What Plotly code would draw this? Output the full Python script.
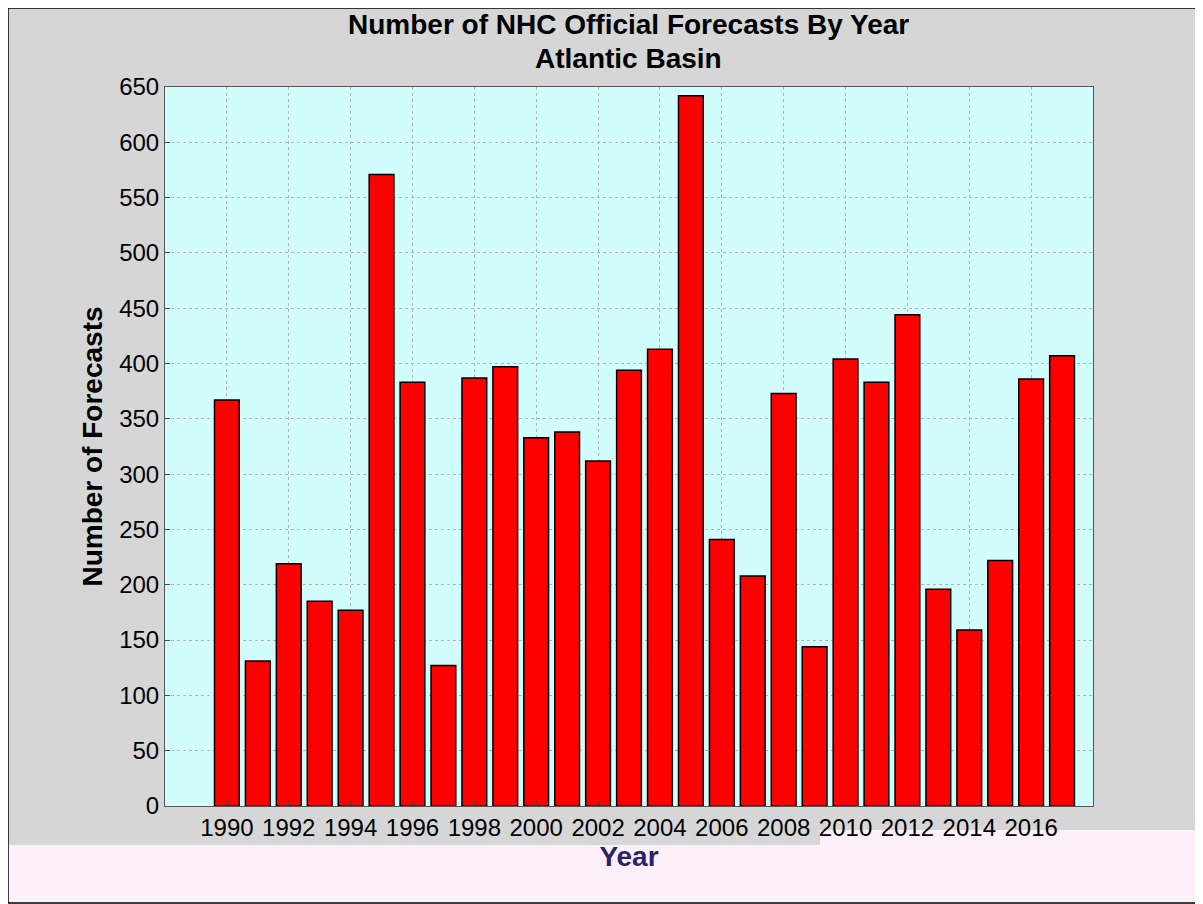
import plotly.graph_objects as go

years = list(range(1990, 2018))
forecasts = [367, 131, 219, 185, 177, 571, 383, 127, 387, 397, 333, 338, 312, 394,
             413, 642, 241, 208, 373, 144, 404, 383, 444, 196, 159, 222, 386, 407]
tick_years = list(range(1990, 2018, 2))

# page is drawn with an 8px body margin, so shift everything by 8
OFF = 8
W, H = 1203 - 2 * OFF, 904 - OFF
L, R, T, B = 165 - OFF, 1093 - OFF, 87 - OFF, 806 - OFF

def px(x):
    return (x - OFF - L) / (R - L)

def py(y):
    return (B - (y - OFF)) / (B - T)

fig = go.Figure()
fig.add_trace(go.Bar(x=years, y=forecasts, width=0.8,
                     marker=dict(color="#ff0000", line=dict(color="black", width=1.5))))

fig.update_layout(
    width=W, height=H,
    margin=dict(l=L, r=W - R, t=T, b=H - B),
    paper_bgcolor="#d6d6d6", plot_bgcolor="#d2fdfd",
    font=dict(family="Liberation Sans, Arial", size=24, color="black"),
    showlegend=False,
    annotations=[
        dict(text="<b>Number of NHC Official Forecasts By Year</b>", xref="paper", yref="paper",
             x=px(628), y=py(7), showarrow=False, font=dict(size=28)),
        dict(text="<b>Atlantic Basin</b>", xref="paper", yref="paper",
             x=px(628), y=py(41), showarrow=False, font=dict(size=28)),
    ],
    shapes=[
        dict(type="rect", xref="paper", yref="paper", x0=px(0), x1=px(1203),
             y0=py(904), y1=py(845), fillcolor="#fdf0fb", line_width=0, layer="below"),
        dict(type="rect", xref="paper", yref="paper", x0=px(820), x1=px(1203),
             y0=py(845), y1=py(830), fillcolor="#fdf0fb", line_width=0, layer="below"),
        dict(type="rect", xref="paper", yref="paper", x0=px(8), x1=px(1202),
             y0=py(903), y1=py(8), line=dict(color="black", width=1.5)),
    ],
)
fig.update_xaxes(range=[1988, 2018], tickvals=tick_years, showgrid=True,
                 gridcolor="#b5b5b5", griddash="dot", gridwidth=1,
                 showline=True, mirror=True, linecolor="#555555", ticks="inside",
                 title=dict(text="<b>Year</b>", font=dict(size=28, color="#2a2466"), standoff=2))
fig.update_yaxes(range=[0, 650], dtick=50, showgrid=True,
                 gridcolor="#b5b5b5", griddash="dot", gridwidth=1,
                 showline=True, mirror=True, linecolor="#555555", ticks="inside",
                 zeroline=False,
                 title=dict(text="<b>Number of Forecasts</b>", font=dict(size=28), standoff=8))

fig.write_html("out.html")
